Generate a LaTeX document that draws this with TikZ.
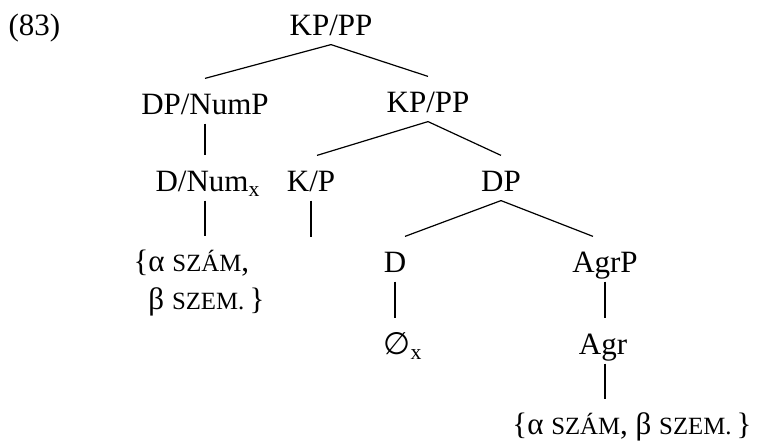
\documentclass[tikz,border=0pt]{standalone}
\usepackage{fontspec}
\setmainfont{Liberation Serif}
\newfontfamily\symfont{DejaVu Sans}
\begin{document}
\begin{tikzpicture}[x=0.5pt,y=-0.5pt,line width=0.6pt,
	font=\fontsize{15.5}{19}\selectfont,
	cat/.style={anchor=base,inner sep=0pt,text height=18pt,text depth=4pt},
	feat/.style={inner xsep=0pt,inner ysep=7pt,align=left}]
	\newcommand{\mysc}[1]{{\fontsize{12.4}{14}\selectfont #1}}

		\useasboundingbox (0,0) rectangle (760,442);

		% labels
		\node[anchor=base west,inner sep=0pt] (ex) at (8,36) {(83)};
		\node[cat] (kp) at (331,36) {KP/PP};
		\node[cat] (dpnum) at (205,115) {DP/NumP};
		\node[cat] (kp2) at (428,113) {KP/PP};
		\node[cat] (dnum) at (208,192) {D/Num\textsubscript{x}};
		\node[cat] (kslash) at (311,192) {K/P};
		\node[cat] (dp) at (501,192) {DP};
		\node[cat] (dd) at (395,273) {D};
		\node[cat] (agrp) at (605,273) {AgrP};
		\node[cat] (null) at (403,355) {{\symfont ∅}\textsubscript{x}};
		\node[cat] (agr) at (603,355) {Agr};
		\node[feat,anchor=base west] (feat1) at (133,310)
			{\{α \mysc{SZÁM},\\ \phantom{\{}β \mysc{SZEM.}\,\}};
		\node[feat,anchor=base] (feat2) at (632,435)
			{\{α \mysc{SZÁM}, β \mysc{SZEM.}\,\}};
		\coordinate (kpend) at (311,237);

		% branches
		\draw (kp.south) -- (dpnum.north);
		\draw (kp.south) -- (kp2.north);
		\draw (dpnum.south) -- (dpnum.south |- dnum.north);
		\draw (kp2.south) -- ([xshift=3pt]kslash.north);
		\draw (kp2.south) -- (dp.north);
		\draw (dnum.south -| dpnum.south) -- (dpnum.south |- feat1.north);
		\draw (kslash.south) -- (kpend);
		\draw (dp.south) -- ([xshift=5pt]dd.north);
		\draw (dp.south) -- ([xshift=-6pt]agrp.north);
		\draw (dd.south) -- (dd.south |- null.north);
		\draw (agrp.south) -- (agrp.south |- agr.north);
		\draw (agr.south -| agrp.south) -- (agrp.south |- feat2.north);
\end{tikzpicture}
\end{document}
